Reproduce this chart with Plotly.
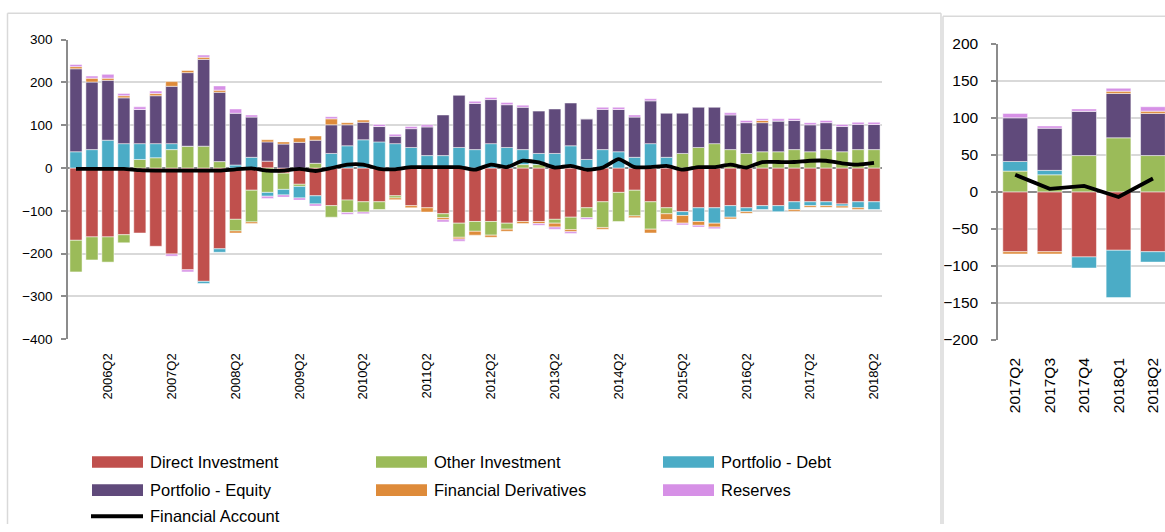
import plotly.graph_objects as go

# Quarterly flows, 2005Q4 - 2018Q2
quarters = [f"{y}Q{q}" for y in range(2005, 2019) for q in range(1, 5)]
quarters = quarters[quarters.index("2005Q4"):quarters.index("2018Q2") + 1]

direct_investment = [-169, -161, -161, -156, -152, -183, -201, -238, -265, -189,
                     -120, -52, 16, -12, -38, -65, -88, -75, -79, -79,
                     -65, -88, -93, -107, -129, -125, -125, -129, -125, -125,
                     -120, -115, -93, -79, -57, -52, -79, -93, -102, -93,
                     -93, -88, -93, -88, -88, -79, -79, -79, -84, -79, -79]
other_investment = [-74, -54, -59, -19, 20, 24, 43, 51, 51, 15,
                    -27, -74, -57, -38, -5, 11, -27, -29, -24, -18,
                    -5, 0, 0, -9, -33, -23, -32, -14, 8, 8,
                    -9, -29, -23, -60, -68, -60, -64, -14, 34, 48,
                    57, 43, 34, 38, 38, 43, 38, 43, 38, 43, 43]
portfolio_debt = [38, 43, 65, 57, 37, 33, 14, 0, -5, -8,
                  7, 25, -9, -13, -27, -19, 34, 52, 66, 61,
                  57, 48, 29, 29, 48, 43, 57, 48, 35, 26,
                  34, 52, 20, 43, 38, 25, 57, 25, -9, -32,
                  -36, -27, -9, -9, -14, -18, -9, -9, -5, -14, -18]
portfolio_equity = [194, 158, 140, 107, 80, 112, 134, 172, 203, 162,
                    121, 94, 45, 56, 60, 54, 67, 49, 41, 36,
                    17, 44, 67, 95, 122, 108, 103, 100, 99, 99,
                    104, 100, 95, 94, 99, 94, 100, 103, 94, 94,
                    85, 81, 72, 68, 72, 68, 63, 63, 59, 59, 59]
financial_derivatives = [5, 9, 5, 5, 0, 5, 11, 5, 5, 5,
                         -5, -4, 5, 5, 10, 10, 14, 5, 5, 0,
                         -4, -5, -10, -5, -4, -9, -5, -5, -5, -5,
                         -9, -5, 0, -4, 0, -4, -9, -14, -18, -9,
                         -9, -4, -4, 5, 0, -4, -4, -4, -4, -4, 0]
reserves = [5, 5, 9, 5, 6, 6, -5, -5, 5, 10,
            10, 5, -5, -5, -5, -5, 5, -4, -4, 5,
            5, 5, 5, -5, -5, 5, 5, 5, 5, -4,
            -5, -4, -4, 5, 5, 5, 5, -4, -4, -4,
            -4, 5, 5, 4, 5, 5, 5, 5, 5, 5, 5]
financial_account = [-2, -2, -2, -2, -5, -6, -6, -6, -6, -6,
                     -3, -1, -6, -6, -2, -7, 0, 8, 8, -2,
                     -3, 2, 2, 2, 2, -4, 8, 2, 17, 13,
                     1, 5, -4, 1, 21, 2, 2, 5, -4, 2,
                     2, 8, 1, 14, 14, 14, 17, 17, 11, 8, 12]

# Recent quarters panel
recent_quarters = ["2017Q2", "2017Q3", "2017Q4", "2018Q1", "2018Q2"]
recent_direct_investment = [-81, -81, -88, -79, -81]
recent_other_investment = [28, 23, 49, 73, 49]
recent_portfolio_debt = [13, 6, -15, -64, -14]
recent_portfolio_equity = [59, 57, 60, 60, 57]
recent_financial_derivatives = [-3, -3, 0, 3, 3]
recent_reserves = [6, 3, 3, 4, 6]
recent_financial_account = [23, 4, 8, -7, 18]

series_names = ["Direct Investment", "Other Investment", "Portfolio - Debt",
                "Portfolio - Equity", "Financial Derivatives", "Reserves"]
line_name = "Financial Account"
colors = ["#C0504D", "#9BBB59", "#4BACC6", "#604A7B", "#DE8B3A", "#D690E6"]

left_series = [direct_investment, other_investment, portfolio_debt,
               portfolio_equity, financial_derivatives, reserves]
right_series = [recent_direct_investment, recent_other_investment,
                recent_portfolio_debt, recent_portfolio_equity,
                recent_financial_derivatives, recent_reserves]

W, H = 1165, 532
FONT = "Liberation Sans, Arial, sans-serif"


def px(x):
    return x / W


def py(y):
    return 1 - y / H


fig = go.Figure()

for name, color, vals in zip(series_names, colors, left_series):
    fig.add_trace(go.Bar(x=quarters, y=vals, name=name, marker_color=color,
                         marker_line=dict(color="rgba(255,255,255,0.85)", width=0.6),
                         width=0.76, xaxis="x", yaxis="y", showlegend=False))
fig.add_trace(go.Scatter(x=quarters, y=financial_account, name=line_name, mode="lines",
                         line=dict(color="black", width=3.8, shape="spline", smoothing=0.5),
                         xaxis="x", yaxis="y", showlegend=False))

for name, color, vals in zip(series_names, colors, right_series):
    fig.add_trace(go.Bar(x=recent_quarters, y=vals, name=name, marker_color=color,
                         marker_line=dict(color="rgba(255,255,255,0.85)", width=0.6),
                         width=0.72, xaxis="x2", yaxis="y2", showlegend=False))
fig.add_trace(go.Scatter(x=recent_quarters, y=recent_financial_account, name=line_name,
                         mode="lines", line=dict(color="black", width=3.8),
                         xaxis="x2", yaxis="y2", showlegend=False))

axis_grey = "#8C8C8C"
grid_grey = "#D9D9D9"

fig.update_layout(
    width=W, height=H, autosize=False,
    margin=dict(l=0, r=0, t=0, b=0),
    paper_bgcolor="white", plot_bgcolor="white",
    barmode="relative", bargap=0.24,
    font=dict(family=FONT, color="black"),
    xaxis=dict(domain=[px(68), px(882)], type="category",
               categoryorder="array", categoryarray=quarters,
               range=[-0.5, len(quarters) - 0.5],
               tickmode="array", tickvals=[q for q in quarters if q.endswith("Q2")],
               tickangle=-90, tickfont=dict(size=13, family=FONT),
               showgrid=False, showline=False, ticks="outside", ticklen=8,
               tickcolor="rgba(0,0,0,0)", anchor="y"),
    yaxis=dict(domain=[py(341), py(31.7)], range=[-400, 300], dtick=100,
               tickfont=dict(size=13.5, family=FONT),
               showgrid=True, gridcolor=grid_grey, gridwidth=1.5,
               zeroline=True, zerolinecolor=axis_grey, zerolinewidth=1.5,
               showline=True, linecolor=axis_grey, linewidth=1.5,
               ticks="outside", ticklen=5, tickcolor=axis_grey, tickwidth=1.5,
               ticklabelstandoff=6, anchor="x"),
    xaxis2=dict(domain=[px(998), 1.0], type="category",
                categoryorder="array", categoryarray=recent_quarters,
                range=[-0.5, 4.35],
                tickangle=-90, tickfont=dict(size=15.5, family=FONT),
                showgrid=False, showline=False, ticks="outside", ticklen=11,
                tickcolor="rgba(0,0,0,0)", anchor="y2"),
    yaxis2=dict(domain=[py(341.7), py(36)], range=[-200, 200], dtick=50,
                tickfont=dict(size=15.5, family=FONT),
                showgrid=True, gridcolor=grid_grey, gridwidth=1.5,
                zeroline=True, zerolinecolor=axis_grey, zerolinewidth=1.5,
                showline=True, linecolor=axis_grey, linewidth=1.5,
                ticks="outside", ticklen=5, tickcolor=axis_grey, tickwidth=1.5,
                ticklabelstandoff=10, anchor="x2"),
)

shapes = []
annotations = []

# Chart frames
frame = dict(type="line", xref="paper", yref="paper",
             line=dict(color="#D9D9D9", width=1.5))
shapes.append(dict(frame, x0=px(7.5), x1=px(941), y0=py(4.5), y1=py(4.5)))
shapes.append(dict(frame, x0=px(7.5), x1=px(7.5), y0=py(4.5), y1=0))
shapes.append(dict(frame, x0=px(941), x1=px(941), y0=py(4.5), y1=0))
shapes.append(dict(frame, x0=px(943), x1=1, y0=py(7.5), y1=py(7.5)))
shapes.append(dict(frame, x0=px(943), x1=px(943), y0=py(7.5), y1=0))

# Legend
col_x = [92, 376, 663]
row_y = [468, 497]
for i, (name, color) in enumerate(zip(series_names, colors)):
    cx = col_x[i % 3]
    cy = row_y[i // 3]
    shapes.append(dict(type="rect", xref="paper", yref="paper",
                       x0=px(cx), x1=px(cx + 51), y0=py(cy + 6), y1=py(cy - 6),
                       fillcolor=color, line=dict(width=0)))
    annotations.append(dict(text=name, xref="paper", yref="paper",
                            x=px(cx + 56), y=py(cy), xanchor="left", yanchor="middle",
                            showarrow=False, font=dict(size=16.5, family=FONT, color="black")))
shapes.append(dict(type="line", xref="paper", yref="paper",
                   x0=px(91), x1=px(143), y0=py(524), y1=py(524),
                   line=dict(color="black", width=4)))
annotations.append(dict(text=line_name, xref="paper", yref="paper",
                        x=px(148), y=py(524), xanchor="left", yanchor="middle",
                        showarrow=False, font=dict(size=16.5, family=FONT, color="black")))

fig.update_layout(shapes=shapes, annotations=annotations)

fig.write_html("out.html")
